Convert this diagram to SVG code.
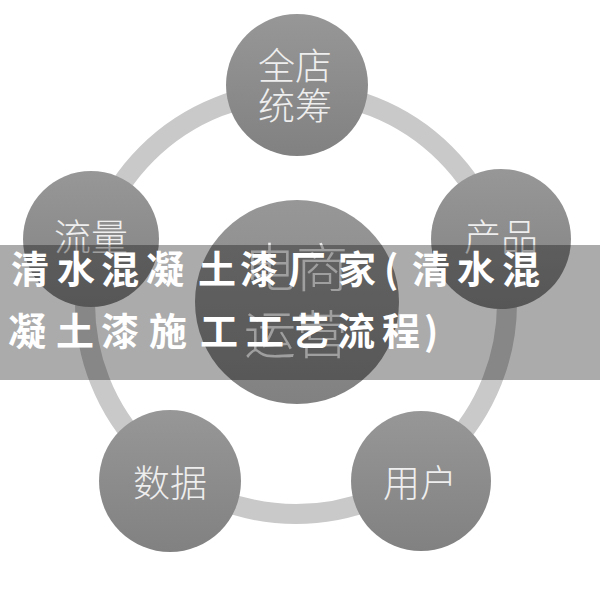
<svg xmlns="http://www.w3.org/2000/svg" width="600" height="595" viewBox="0 0 600 595">
  <defs>
    <linearGradient id="g" x1="0" y1="0" x2="0" y2="1">
      <stop offset="0" stop-color="#979797"/>
      <stop offset="1" stop-color="#818181"/>
    </linearGradient>
    <style>
      .node { fill: url(#g); }
      .lbl { font-family: "Noto Sans CJK SC", "Noto Sans", sans-serif; font-size: 37px; font-weight: 300; fill: #eeeeee; text-anchor: middle; }
      .big { font-size: 52px; }
      .ring { fill: none; stroke: #c9c9c9; stroke-width: 20; }
      .banner { fill: #000000; fill-opacity: 0.33; }
      .title { font-family: "Noto Sans CJK SC", "Noto Sans", sans-serif; font-size: 38px; font-weight: bold; fill: #ffffff; }
    </style>
  </defs>
  <rect width="600" height="595" fill="#ffffff"/>
  <g id="connectors">
    <circle class="ring" cx="296" cy="303" r="211"/>
  </g>
  <g id="node-center">
    <circle class="node" cx="297" cy="302" r="102"/>
    <text class="lbl big" x="296" y="287">电商</text>
    <text class="lbl big" x="296" y="354">运营</text>
  </g>
  <g id="node-top">
    <circle class="node" cx="297" cy="85" r="71"/>
    <text class="lbl" x="295" y="80">全店</text>
    <text class="lbl" x="295" y="120">统筹</text>
  </g>
  <g id="node-left">
    <circle class="node" cx="91" cy="239" r="68"/>
    <text class="lbl" x="91" y="251">流量</text>
  </g>
  <g id="node-right">
    <circle class="node" cx="501" cy="239" r="70"/>
    <text class="lbl" x="501" y="251">产品</text>
  </g>
  <g id="node-bottom-left">
    <circle class="node" cx="170" cy="481" r="71"/>
    <text class="lbl" x="170" y="497">数据</text>
  </g>
  <g id="node-bottom-right">
    <circle class="node" cx="421" cy="481" r="70"/>
    <text class="lbl" x="420" y="497">用户</text>
  </g>
  <g id="banner">
    <rect class="banner" x="0" y="245" width="600" height="135"/>
    <text class="title" x="11 57 101 146 198 240 288 338 384 412 457 502" y="283">清水混凝土漆厂家(清水混</text>
    <text class="title" x="8 56 101 149 200 246 291 337 382 424" y="345">凝土漆施工工艺流程)</text>
  </g>
</svg>
